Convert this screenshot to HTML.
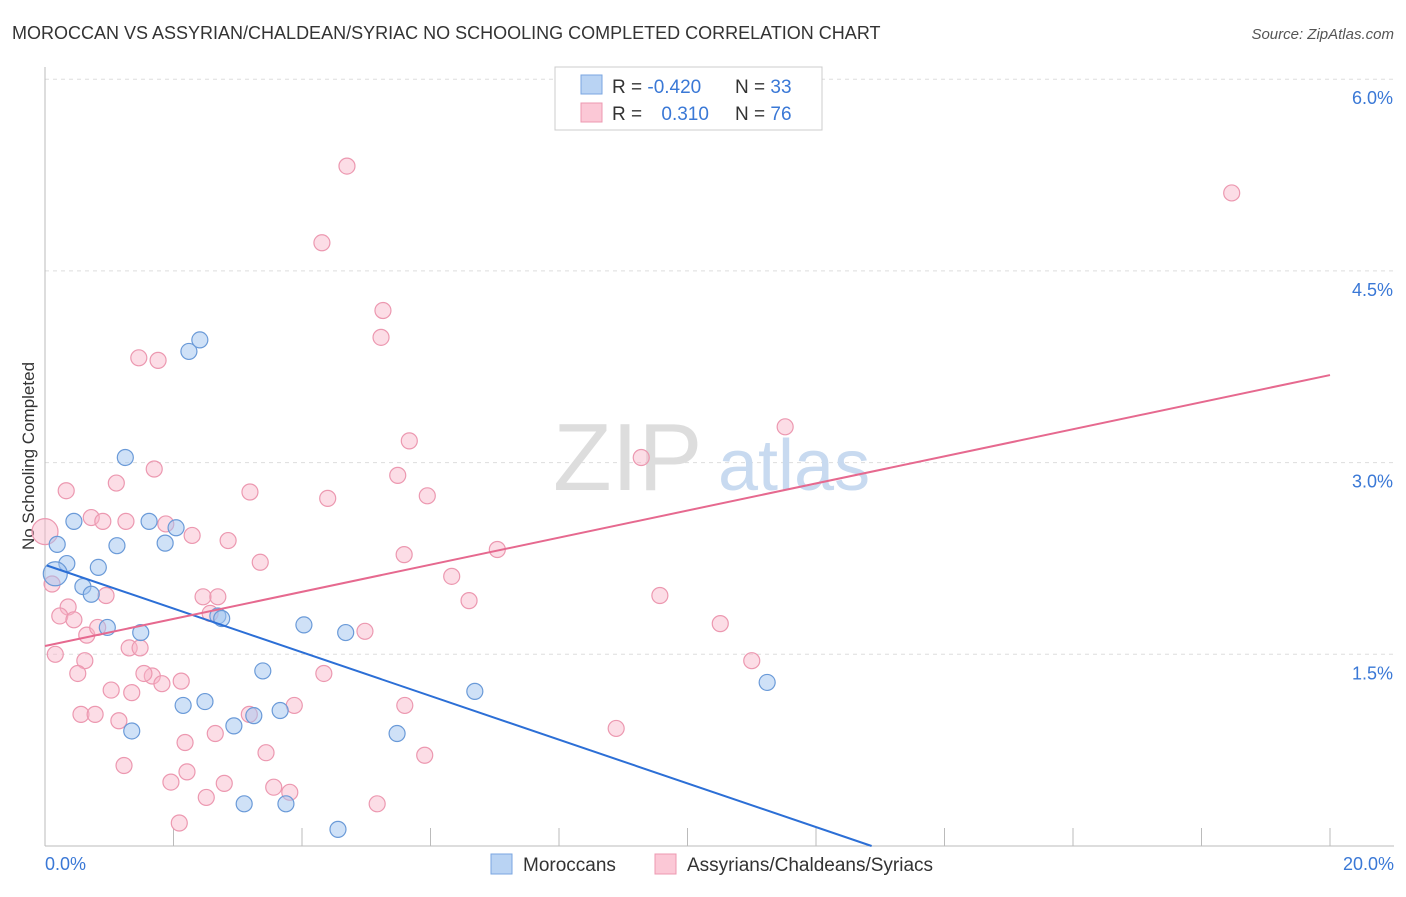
<!DOCTYPE html>
<html><head><meta charset="utf-8"><style>
body{margin:0;background:#fff;font-family:"Liberation Sans",sans-serif;}
svg text{font-family:"Liberation Sans",sans-serif;}
</style></head><body>
<svg id="chart" width="1406" height="892" xmlns="http://www.w3.org/2000/svg">
<text x="12" y="39" font-size="18" fill="#333">MOROCCAN VS ASSYRIAN/CHALDEAN/SYRIAC NO SCHOOLING COMPLETED CORRELATION CHART</text>
<text x="1394" y="39" font-size="15" fill="#555" text-anchor="end" font-style="italic">Source: ZipAtlas.com</text>
<text x="34" y="456" font-size="17" fill="#333" text-anchor="middle" transform="rotate(-90 34 456)">No Schooling Completed</text>
<g id="grid"></g>
<g id="axes"></g>
<text x="553" y="490" font-size="96" fill="#ddd" font-family="Liberation Serif">ZIP</text>
<text x="718" y="490" font-size="72" fill="#c8daf0">atlas</text>
<g id="points"></g>
<g id="trends"></g>
<g>
<rect x="555" y="67" width="267" height="63" fill="#fff" stroke="#ccc"/>
<rect x="581" y="75" width="21" height="19" fill="#b9d3f3" stroke="#7aa6e0"/>
<rect x="581" y="103" width="21" height="19" fill="#fbc8d6" stroke="#ec98b0"/>
<text x="612" y="93" font-size="19" fill="#333">R = <tspan fill="#3a78d6">-0.420</tspan></text>
<text x="735" y="93" font-size="19" fill="#333">N = <tspan fill="#3a78d6">33</tspan></text>
<text x="612" y="120" font-size="19" fill="#333">R = <tspan fill="#3a78d6" dx="14">0.310</tspan></text>
<text x="735" y="120" font-size="19" fill="#333">N = <tspan fill="#3a78d6">76</tspan></text>
</g>
<g>
<rect x="491" y="854" width="21" height="20" fill="#b9d3f3" stroke="#7aa6e0"/>
<text x="523" y="871" font-size="19" fill="#333">Moroccans</text>
<rect x="655" y="854" width="21" height="20" fill="#fbc8d6" stroke="#ec98b0"/>
<text x="687" y="871" font-size="19" fill="#333">Assyrians/Chaldeans/Syriacs</text>
</g>
</svg>
<script>
const yTicks=[1.5,3.0,4.5,6.0];
const yTickLabels=["1.5%","3.0%","4.5%","6.0%"];
const xTicks=[0,2,4,6,8,10,12,14,16,18,20];
const blueX=[0.19,0.34,0.45,0.16,0.59,0.72,0.83,0.97,1.12,1.25,1.35,1.49,1.62,1.87,2.04,2.15,2.24,2.41,2.49,2.69,2.75,2.94,3.10,3.25,3.39,3.66,3.75,4.03,4.56,4.68,5.48,6.69,11.24];
const blueY=[2.36,2.21,2.54,2.13,2.03,1.97,2.18,1.71,2.35,3.04,0.90,1.67,2.54,2.37,2.49,1.10,3.87,3.96,1.13,1.80,1.78,0.94,0.33,1.02,1.37,1.06,0.33,1.73,0.13,1.67,0.88,1.21,1.28];
const pinkX=[4.70,18.47,4.31,5.26,5.23,1.46,1.76,11.52,5.67,9.28,1.70,0.33,3.19,1.11,4.40,5.49,5.95,0.72,0.90,1.26,1.88,2.29,2.85,0.0,3.35,5.59,7.04,6.33,0.11,0.95,2.46,2.69,6.60,9.57,0.36,0.23,0.45,2.57,4.98,0.65,0.82,10.51,1.31,1.48,0.16,0.62,0.51,1.67,1.54,2.12,1.82,4.34,1.03,1.35,11.00,0.56,0.78,3.88,5.60,3.18,1.15,2.65,2.18,3.44,8.89,5.91,1.23,2.21,1.96,2.79,3.56,2.51,3.81,5.17,2.09];
const pinkY=[5.32,5.11,4.72,4.19,3.98,3.82,3.80,3.28,3.17,3.04,2.95,2.78,2.77,2.84,2.72,2.90,2.74,2.57,2.54,2.54,2.52,2.43,2.39,2.46,2.22,2.28,2.32,2.11,2.05,1.96,1.95,1.95,1.92,1.96,1.87,1.80,1.77,1.82,1.68,1.65,1.71,1.74,1.55,1.55,1.50,1.45,1.35,1.33,1.35,1.29,1.27,1.35,1.22,1.20,1.45,1.03,1.03,1.10,1.10,1.03,0.98,0.88,0.81,0.73,0.92,0.71,0.63,0.58,0.50,0.49,0.46,0.38,0.42,0.33,0.18];
const trendIntercepts=[2.20,1.565];
const trendSlopes=[-0.171,0.106];
const X0=45,X1=1330,Y0=846,YPER=127.8;
const sx=v=>X0+(v/20)*(X1-X0);
const sy=v=>Y0-v*YPER;
const NS="http://www.w3.org/2000/svg";
function mk(t,a,p){const e=document.createElementNS(NS,t);for(const k in a)e.setAttribute(k,a[k]);p.appendChild(e);return e;}
const grid=document.getElementById('grid'),axes=document.getElementById('axes');
yTicks.forEach((v,i)=>{
 const l=mk('line',{x1:45,x2:1394,y1:sy(v),y2:sy(v),stroke:'#ddd','stroke-dasharray':'4,4'},grid);
 
 
 const t=mk('text',{x:1393,y:sy(v)+25,'font-size':18,fill:'#3a78d6','text-anchor':'end'},axes);
 t.textContent=yTickLabels[i];
 
 
});
mk('line',{x1:45,x2:45,y1:67,y2:846,stroke:'#bbb'},axes);
mk('line',{x1:45,x2:1394,y1:846,y2:846,stroke:'#bbb'},axes);
xTicks.forEach(v=>{
 const l=mk('line',{x1:sx(v),x2:sx(v),y1:828,y2:846,stroke:'#bbb'},axes);
 
 
});
const xl=mk('text',{x:45,y:870,'font-size':18,fill:'#3a78d6'},axes);xl.textContent='0.0%';


const xr=mk('text',{x:1394,y:870,'font-size':18,fill:'#3a78d6','text-anchor':'end'},axes);xr.textContent='20.0%';


const pts=document.getElementById('points');
pinkX.forEach((x,i)=>{
 const c=mk('circle',{cx:sx(x),cy:sy(pinkY[i]),r:i===23?13:8,fill:'rgba(248,180,200,0.45)',stroke:'#ec98b0','stroke-width':1.2},pts);
 
 
});
blueX.forEach((x,i)=>{
 const c=mk('circle',{cx:sx(x),cy:sy(blueY[i]),r:i===3?12:8,fill:'rgba(160,195,240,0.5)',stroke:'#6a9ad8','stroke-width':1.2},pts);
 
 
});
const tr=document.getElementById('trends');
const bEnd=Math.min(20,-trendIntercepts[0]/trendSlopes[0]);
const bl=mk('line',{x1:sx(0.03),y1:sy(trendIntercepts[0]+trendSlopes[0]*0.03),x2:sx(bEnd),y2:sy(trendIntercepts[0]+trendSlopes[0]*bEnd),stroke:'#2c6fd6','stroke-width':2},tr);


const pl=mk('line',{x1:sx(0),y1:sy(trendIntercepts[1]),x2:sx(20),y2:sy(trendIntercepts[1]+trendSlopes[1]*20),stroke:'#e6698f','stroke-width':2},tr);


</script>
</body></html>
